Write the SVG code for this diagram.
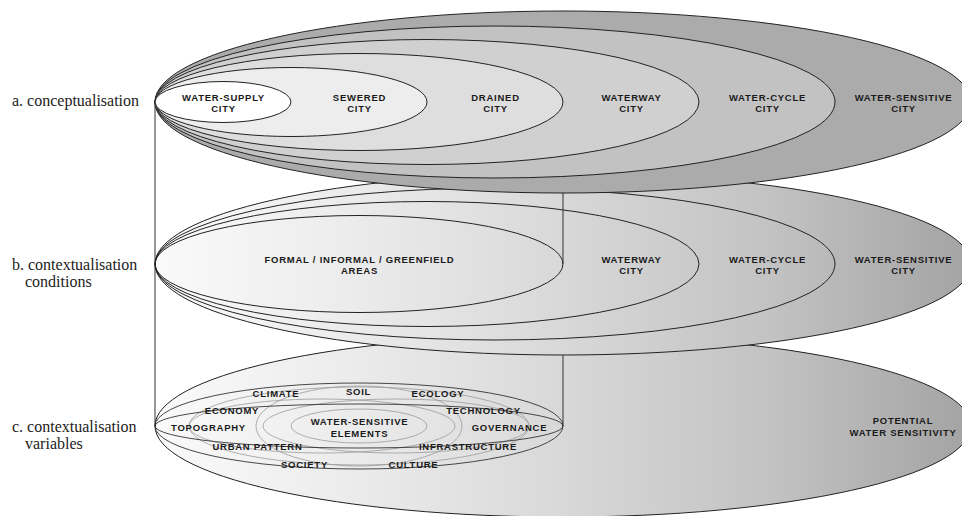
<svg xmlns="http://www.w3.org/2000/svg" width="962" height="516" viewBox="0 0 962 516">
<defs>
<linearGradient id="shade" gradientUnits="userSpaceOnUse" x1="155" y1="0" x2="971" y2="0">
<stop offset="0" stop-color="#fafafa"/>
<stop offset="0.25" stop-color="#ebebeb"/>
<stop offset="0.5" stop-color="#d8d8d8"/>
<stop offset="0.75" stop-color="#c3c3c3"/>
<stop offset="1" stop-color="#a3a3a3"/>
</linearGradient>
<style>
.ln{stroke:#222;stroke-width:1;}
.nf{fill:none;}
.cg{fill:none;stroke:#9a9a9a;stroke-width:0.8;}
.ck{fill:none;stroke:#333;stroke-width:0.9;}
.t{font-family:"Liberation Sans",Arial,sans-serif;font-weight:bold;font-size:9.5px;letter-spacing:0.75px;fill:#1a1a1a;text-anchor:middle;}
.lab{font-family:"Liberation Serif","Times New Roman",serif;font-size:16px;fill:#222;}
.con{stroke:#333;stroke-width:1;fill:none;}
</style>
</defs>
<rect width="962" height="516" fill="#ffffff"/>

<!-- section c: contextualisation variables -->
<g id="c-potential-water-sensitivity">
<ellipse class="ln" cx="563" cy="426" rx="408" ry="91" fill="url(#shade)"/>
<text class="t" x="903" y="424">POTENTIAL</text>
<text class="t" x="903" y="436">WATER SENSITIVITY</text>
</g>
<g id="c-variables-cluster">
<ellipse class="cg" cx="359" cy="426" rx="170" ry="39"/>
<ellipse class="cg" cx="359" cy="426" rx="103" ry="40"/>
<ellipse class="cg" cx="322" cy="426" rx="133" ry="27"/>
<ellipse class="cg" cx="396" cy="426" rx="133" ry="27"/>
<ellipse class="cg" cx="359" cy="426" rx="68" ry="17"/>
<ellipse class="ck" cx="359" cy="426" rx="204" ry="43"/>
<ellipse class="ck" cx="359" cy="426" rx="204" ry="22"/>
</g>
<g id="c-climate"><text class="t" x="276" y="397">CLIMATE</text></g>
<g id="c-soil"><text class="t" x="358.5" y="395">SOIL</text></g>
<g id="c-ecology"><text class="t" x="438" y="397">ECOLOGY</text></g>
<g id="c-economy"><text class="t" x="232" y="414">ECONOMY</text></g>
<g id="c-technology"><text class="t" x="483.5" y="414">TECHNOLOGY</text></g>
<g id="c-topography"><text class="t" x="208.5" y="430.5">TOPOGRAPHY</text></g>
<g id="c-governance"><text class="t" x="509.5" y="430.5">GOVERNANCE</text></g>
<g id="c-water-sensitive-elements">
<text class="t" x="359.5" y="425">WATER-SENSITIVE</text>
<text class="t" x="359.5" y="436.5">ELEMENTS</text>
</g>
<g id="c-urban-pattern"><text class="t" x="257.5" y="450">URBAN PATTERN</text></g>
<g id="c-infrastructure"><text class="t" x="468" y="450">INFRASTRUCTURE</text></g>
<g id="c-society"><text class="t" x="304.5" y="468.3">SOCIETY</text></g>
<g id="c-culture"><text class="t" x="413.5" y="468.3">CULTURE</text></g>

<!-- section b: contextualisation conditions -->
<g id="b-water-sensitive-city">
<ellipse class="ln" cx="563" cy="264" rx="408" ry="91" fill="url(#shade)"/>
<text class="t" x="903.5" y="262.7">WATER-SENSITIVE</text>
<text class="t" x="903.5" y="274">CITY</text>
</g>
<g id="b-water-cycle-city">
<ellipse class="ln nf" cx="495" cy="264" rx="340" ry="76"/>
<text class="t" x="767.5" y="262.7">WATER-CYCLE</text>
<text class="t" x="767.5" y="274">CITY</text>
</g>
<g id="b-waterway-city">
<ellipse class="ln nf" cx="427" cy="264" rx="272" ry="62.5"/>
<text class="t" x="631.5" y="262.7">WATERWAY</text>
<text class="t" x="631.5" y="274">CITY</text>
</g>
<g id="b-formal-informal-greenfield">
<ellipse class="ln nf" cx="359" cy="264" rx="204" ry="48.5"/>
<text class="t" x="359.5" y="262.7">FORMAL / INFORMAL / GREENFIELD</text>
<text class="t" x="359.5" y="274">AREAS</text>
</g>

<!-- section a: conceptualisation -->
<g id="a-water-sensitive-city">
<ellipse class="ln" cx="563" cy="102" rx="408" ry="91" fill="#ababab"/>
<text class="t" x="903.5" y="100.5">WATER-SENSITIVE</text>
<text class="t" x="903.5" y="112.3">CITY</text>
</g>
<g id="a-water-cycle-city">
<ellipse class="ln" cx="495" cy="102" rx="340" ry="76" fill="#c2c2c2"/>
<text class="t" x="767.5" y="100.5">WATER-CYCLE</text>
<text class="t" x="767.5" y="112.3">CITY</text>
</g>
<g id="a-waterway-city">
<ellipse class="ln" cx="427" cy="102" rx="272" ry="62.5" fill="#d0d0d0"/>
<text class="t" x="631.5" y="100.5">WATERWAY</text>
<text class="t" x="631.5" y="112.3">CITY</text>
</g>
<g id="a-drained-city">
<ellipse class="ln" cx="359" cy="102" rx="204" ry="48.5" fill="#dedede"/>
<text class="t" x="495.5" y="100.5">DRAINED</text>
<text class="t" x="495.5" y="112.3">CITY</text>
</g>
<g id="a-sewered-city">
<ellipse class="ln" cx="291" cy="102" rx="136" ry="34.5" fill="#ededed"/>
<text class="t" x="359.5" y="100.5">SEWERED</text>
<text class="t" x="359.5" y="112.3">CITY</text>
</g>
<g id="a-water-supply-city">
<ellipse class="ln" cx="223" cy="102" rx="68" ry="20.5" fill="#ffffff"/>
<text class="t" x="223.5" y="100.5">WATER-SUPPLY</text>
<text class="t" x="223.5" y="112.3">CITY</text>
</g>

<!-- connectors -->
<g id="connectors">
<line class="con" x1="155" y1="102" x2="155" y2="426"/>
<line class="con" x1="563" y1="193" x2="563" y2="264"/>
<line class="con" x1="563" y1="355" x2="563" y2="426"/>
</g>

<!-- row labels -->
<g id="row-labels">
<text class="lab" x="12" y="106">a. conceptualisation</text>
<text class="lab" x="12" y="270">b. contextualisation</text>
<text class="lab" x="25" y="287">conditions</text>
<text class="lab" x="12" y="432">c. contextualisation</text>
<text class="lab" x="25" y="449">variables</text>
</g>
</svg>
